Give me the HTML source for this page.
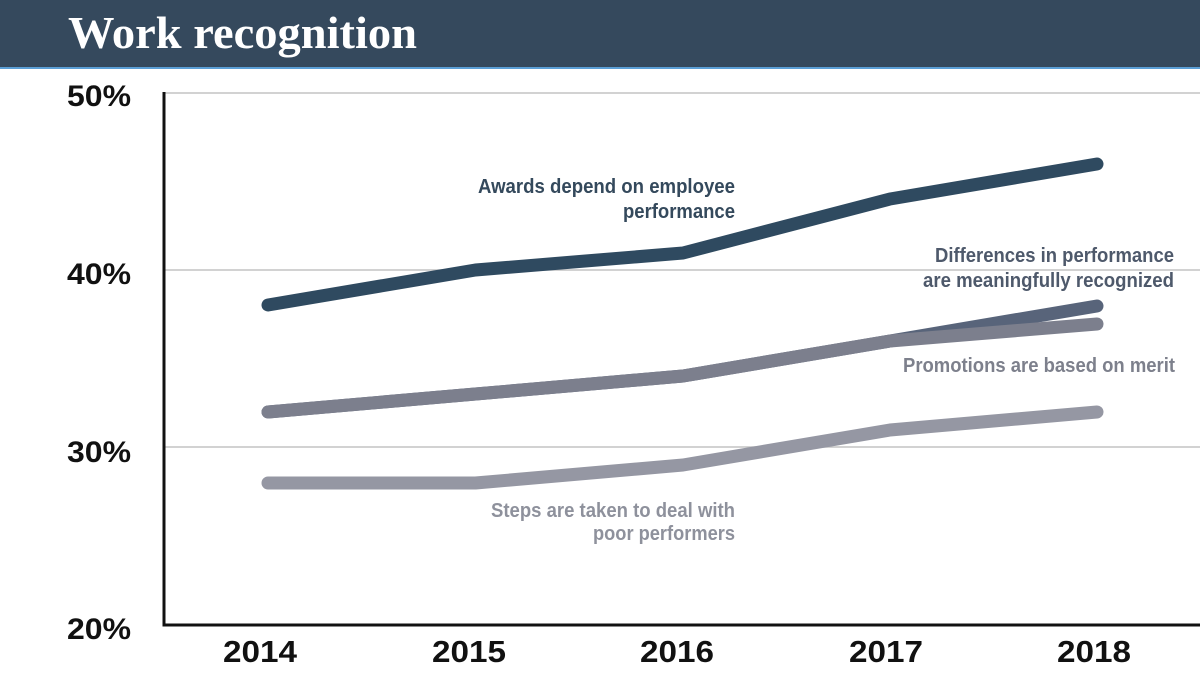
<!DOCTYPE html>
<html>
<head>
<meta charset="utf-8">
<style>
  html, body { margin: 0; padding: 0; background: #ffffff; }
  body { width: 1200px; height: 675px; overflow: hidden; }
  svg { display: block; }
  .ann { font-family: "Liberation Sans", sans-serif; font-weight: bold; font-size: 20px; }
  .yl { font-family: "Liberation Sans", sans-serif; font-weight: bold; font-size: 30px; fill: #111111; }
  .xl { font-family: "Liberation Sans", sans-serif; font-weight: bold; font-size: 31px; fill: #111111; }
</style>
</head>
<body>
<svg width="1200" height="675" viewBox="0 0 1200 675" xmlns="http://www.w3.org/2000/svg">
  <!-- header -->
  <rect x="0" y="0" width="1200" height="67" fill="#35495d"/>
  <rect x="0" y="67" width="1200" height="2" fill="#5b9fd6"/>
  <text x="68" y="48" font-family="'Liberation Serif', serif" font-weight="bold" font-size="45" fill="#ffffff" textLength="349" lengthAdjust="spacingAndGlyphs">Work recognition</text>

  <!-- gridlines -->
  <line x1="164" y1="93" x2="1200" y2="93" stroke="#c4c4c4" stroke-width="1.5"/>
  <line x1="164" y1="270" x2="1200" y2="270" stroke="#c4c4c4" stroke-width="1.5"/>
  <line x1="164" y1="447" x2="1200" y2="447" stroke="#c4c4c4" stroke-width="1.5"/>

  <!-- axes -->
  <line x1="164" y1="92" x2="164" y2="626" stroke="#111111" stroke-width="3"/>
  <line x1="162.5" y1="625" x2="1200" y2="625" stroke="#111111" stroke-width="3"/>

  <!-- y labels -->
  <text class="yl" x="67" y="106" textLength="64" lengthAdjust="spacingAndGlyphs">50%</text>
  <text class="yl" x="67" y="284" textLength="64" lengthAdjust="spacingAndGlyphs">40%</text>
  <text class="yl" x="67" y="462" textLength="64" lengthAdjust="spacingAndGlyphs">30%</text>
  <text class="yl" x="67" y="639" textLength="64" lengthAdjust="spacingAndGlyphs">20%</text>

  <!-- x labels -->
  <text class="xl" x="223" y="662" textLength="74" lengthAdjust="spacingAndGlyphs">2014</text>
  <text class="xl" x="432" y="662" textLength="74" lengthAdjust="spacingAndGlyphs">2015</text>
  <text class="xl" x="640" y="662" textLength="74" lengthAdjust="spacingAndGlyphs">2016</text>
  <text class="xl" x="849" y="662" textLength="74" lengthAdjust="spacingAndGlyphs">2017</text>
  <text class="xl" x="1057" y="662" textLength="74" lengthAdjust="spacingAndGlyphs">2018</text>

  <!-- series -->
  <g fill="none" stroke-linecap="round" stroke-linejoin="round" stroke-width="13">
    <!-- Steps: 28,28,29,31,32 -->
    <polyline stroke="#9597a3" points="268,483 475.5,483 683,465 890,430 1097,412"/>
    <!-- Differences: 32,33,34,36,38 -->
    <polyline stroke="#58647a" points="268,412 475.5,394 683,376 890,341 1097,306"/>
    <!-- Promotions: 32,33,34,36,37 -->
    <polyline stroke="#7c7f8d" points="268,412 475.5,394 683,376 890,341 1097,324"/>
    <!-- Awards: 38,40,41,44,46 -->
    <polyline stroke="#2f4a60" points="268,305 475.5,270 683,253 890,199 1097,164"/>
  </g>

  <!-- annotations -->
  <text class="ann" fill="#34495c" x="478" y="193" textLength="257" lengthAdjust="spacingAndGlyphs">Awards depend on employee</text>
  <text class="ann" fill="#34495c" x="623" y="218" textLength="112" lengthAdjust="spacingAndGlyphs">performance</text>

  <text class="ann" fill="#4e596b" x="935" y="262" textLength="239" lengthAdjust="spacingAndGlyphs">Differences in performance</text>
  <text class="ann" fill="#4e596b" x="923" y="287" textLength="251" lengthAdjust="spacingAndGlyphs">are meaningfully recognized</text>

  <text class="ann" fill="#7d808c" x="903" y="372" textLength="272" lengthAdjust="spacingAndGlyphs">Promotions are based on merit</text>

  <text class="ann" fill="#8e919c" x="491" y="517" textLength="244" lengthAdjust="spacingAndGlyphs">Steps are taken to deal with</text>
  <text class="ann" fill="#8e919c" x="593" y="540" textLength="142" lengthAdjust="spacingAndGlyphs">poor performers</text>
</svg>
</body>
</html>
